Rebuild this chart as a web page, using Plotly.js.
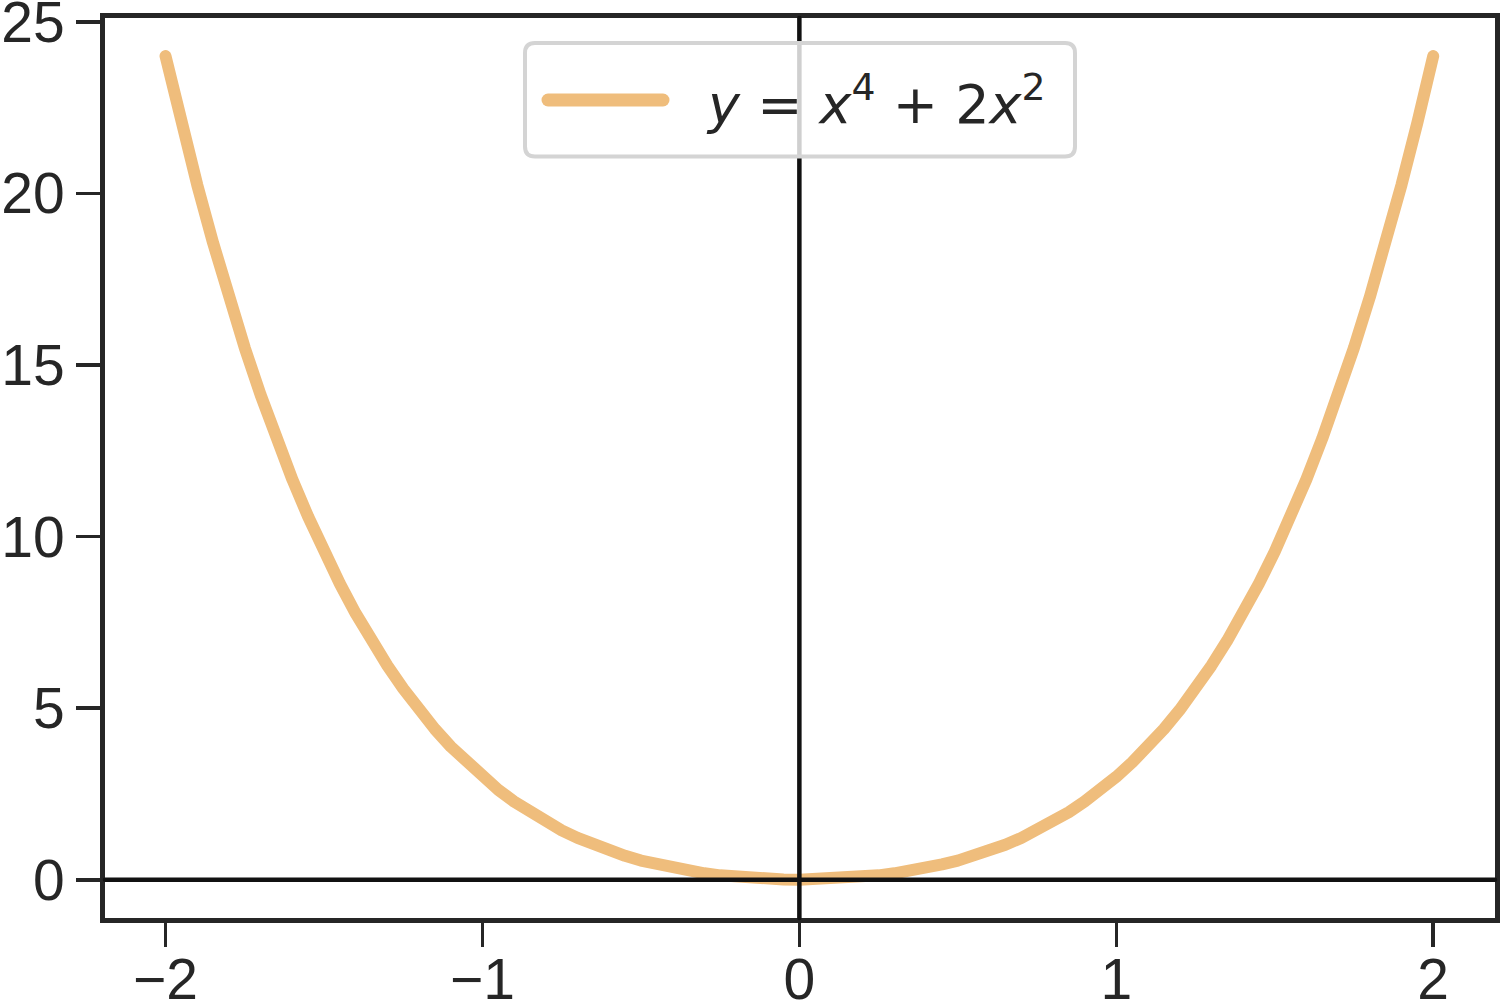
<!DOCTYPE html>
<html>
<head>
<meta charset="utf-8">
<script src="https://cdn.plot.ly/plotly-3.0.1.min.js"></script>
<style>
  html, body { margin: 0; padding: 0; background: #fff; }
  #plot { width: 1500px; height: 1003px; }
  /* matplotlib draws round line ends */
  .js-line, .shapelayer path { stroke-linecap: round; stroke-linejoin: round; }
</style>
</head>
<body>
<div id="plot"></div>
<script>
// curve values
var xs = [-2.0, -1.95, -1.9, -1.85, -1.8, -1.75, -1.7, -1.65, -1.6, -1.55,
          -1.5, -1.45, -1.4, -1.35, -1.3, -1.25, -1.2, -1.15, -1.1, -1.05,
          -1.0, -0.95, -0.9, -0.85, -0.8, -0.75, -0.7, -0.65, -0.6, -0.55,
          -0.5, -0.45, -0.4, -0.35, -0.3, -0.25, -0.2, -0.15, -0.1, -0.05,
           0.0,  0.05,  0.1,  0.15,  0.2,  0.25,  0.3,  0.35,  0.4,  0.45,
           0.5,  0.55,  0.6,  0.65,  0.7,  0.75,  0.8,  0.85,  0.9,  0.95,
           1.0,  1.05,  1.1,  1.15,  1.2,  1.25,  1.3,  1.35,  1.4,  1.45,
           1.5,  1.55,  1.6,  1.65,  1.7,  1.75,  1.8,  1.85,  1.9,  1.95, 2.0];
var ys = [24.0, 22.06, 20.25, 18.56, 16.98, 15.50, 14.13, 12.86, 11.67, 10.58,
          9.56, 8.63, 7.76, 6.97, 6.24, 5.57, 4.95, 4.39, 3.88, 3.42,
          3.0, 2.62, 2.28, 1.97, 1.69, 1.44, 1.22, 1.02, 0.85, 0.70,
          0.56, 0.45, 0.35, 0.26, 0.19, 0.13, 0.08, 0.05, 0.02, 0.01,
          0.0, 0.01, 0.02, 0.05, 0.08, 0.13, 0.19, 0.26, 0.35, 0.45,
          0.56, 0.70, 0.85, 1.02, 1.22, 1.44, 1.69, 1.97, 2.28, 2.62,
          3.0, 3.42, 3.88, 4.39, 4.95, 5.57, 6.24, 6.97, 7.76, 8.63,
          9.56, 10.58, 11.67, 12.86, 14.13, 15.50, 16.98, 18.56, 20.25, 22.06, 24.0];
var xTicks = [-2, -1, 0, 1, 2];
var yTicks = [0, 5, 10, 15, 20, 25];
var seriesName = '<i>y</i> = <i>x</i><sup>4</sup> + 2<i>x</i><sup>2</sup>';

var curveColor = '#efbd7c';
var ink = '#262626';

// plot area in pixels
var L = 105, R = 5, T = 18, B = 85;
var W = 1500 - L - R, H = 1003 - T - B;
function px(x) { return (x - L) / W; }
function py(y) { return (1003 - B - y) / H; }

// legend box (rounded) in paper coords
var bx0 = px(525), bx1 = px(1075), by0 = py(156.5), by1 = py(43);
var rx = 10 / W, ry = 10 / H;
var boxPath = 'M' + (bx0 + rx) + ',' + by0 +
  ' L' + (bx1 - rx) + ',' + by0 +
  ' Q' + bx1 + ',' + by0 + ' ' + bx1 + ',' + (by0 + ry) +
  ' L' + bx1 + ',' + (by1 - ry) +
  ' Q' + bx1 + ',' + by1 + ' ' + (bx1 - rx) + ',' + by1 +
  ' L' + (bx0 + rx) + ',' + by1 +
  ' Q' + bx0 + ',' + by1 + ' ' + bx0 + ',' + (by1 - ry) +
  ' L' + bx0 + ',' + (by0 + ry) +
  ' Q' + bx0 + ',' + by0 + ' ' + (bx0 + rx) + ',' + by0 + ' Z';

var trace = {
  x: xs,
  y: ys,
  name: seriesName,
  type: 'scatter',
  mode: 'lines',
  line: {color: curveColor, width: 12},
  showlegend: false
};

var tickFont = {family: 'Liberation Sans, Arial, sans-serif', size: 57, color: ink};

var layout = {
  width: 1500,
  height: 1003,
  margin: {l: L, r: R, t: T, b: B},
  paper_bgcolor: '#fff',
  plot_bgcolor: '#fff',
  showlegend: false,
  xaxis: {
    range: [-2.191, 2.195],
    tickvals: xTicks,
    ticks: 'outside', ticklen: 24, tickwidth: 3.5, tickcolor: ink,
    showline: true, mirror: true, linewidth: 5, linecolor: ink,
    showgrid: false, zeroline: false,
    tickfont: tickFont,
    ticklabelstandoff: -16,
    ticklabeloverflow: 'allow'
  },
  yaxis: {
    range: [-1.113, 25.11],
    tickvals: yTicks,
    ticks: 'outside', ticklen: 24, tickwidth: 3.5, tickcolor: ink,
    showline: true, mirror: true, linewidth: 5, linecolor: ink,
    showgrid: false, zeroline: false,
    tickfont: tickFont,
    ticklabeloverflow: 'allow'
  },
  shapes: [
    // axhline / axvline drawn over the curve
    {type: 'line', xref: 'paper', yref: 'y', x0: 0, x1: 1, y0: 0, y1: 0,
     line: {color: '#111', width: 4.5}, layer: 'above'},
    {type: 'line', xref: 'x', yref: 'paper', x0: 0, x1: 0, y0: 0, y1: 1,
     line: {color: '#111', width: 4.5}, layer: 'above'},
    // legend frame
    {type: 'path', xref: 'paper', yref: 'paper', path: boxPath,
     fillcolor: 'rgba(255,255,255,0.8)', line: {color: '#d4d4d4', width: 4}, layer: 'above'},
    // legend handle
    {type: 'line', xref: 'paper', yref: 'paper', x0: px(548), x1: px(663), y0: py(100), y1: py(100),
     line: {color: curveColor, width: 13}, layer: 'above'}
  ],
  annotations: [
    {xref: 'paper', yref: 'paper', x: px(704), y: py(100), xanchor: 'left', yanchor: 'middle',
     text: seriesName, showarrow: false,
     font: {family: 'DejaVu Sans, sans-serif', size: 54, color: ink}}
  ]
};

Plotly.newPlot('plot', [trace], layout, {displayModeBar: false, staticPlot: true});
</script>
</body>
</html>
